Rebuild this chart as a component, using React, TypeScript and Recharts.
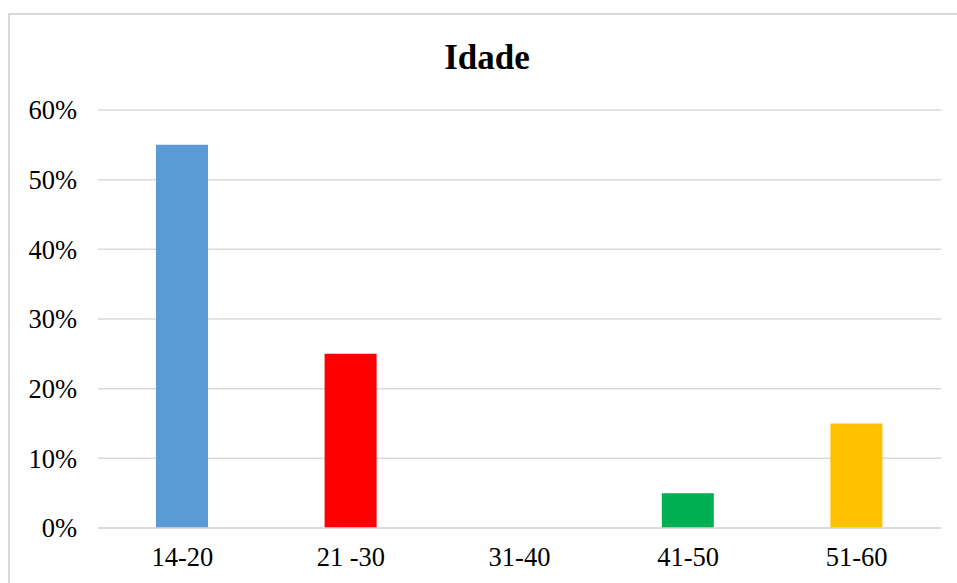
import { Bar, BarChart, CartesianGrid, Cell, XAxis, YAxis } from 'recharts';

const AGE_GROUPS = ['14-20', '21 -30', '31-40', '41-50', '51-60'];
const SHARE = [55, 25, 0, 5, 15];
const BAR_COLORS = ['#5B9BD5', '#FF0000', '#A5A5A5', '#00B050', '#FFC000'];
const Y_TICKS = [0, 10, 20, 30, 40, 50, 60];

const FONT = '"Liberation Serif", "Times New Roman", serif';

const data = AGE_GROUPS.map((name, i) => ({ name, value: SHARE[i] }));

export default function App() {
  return (
    <div
      style={{
        position: 'absolute',
        left: 0,
        top: 0,
        width: 957,
        height: 583,
        overflow: 'hidden',
        background: '#FFFFFF',
        fontFamily: FONT,
      }}
    >
      <div
        style={{
          position: 'absolute',
          left: 8,
          top: 13,
          width: 980,
          height: 620,
          border: '2px solid #D9D9D9',
        }}
      />
      <div
        style={{
          position: 'absolute',
          left: 287,
          top: 40,
          width: 400,
          textAlign: 'center',
          fontSize: 35,
          lineHeight: 1,
          fontWeight: 'bold',
          color: '#000000',
        }}
      >
        Idade
      </div>
      <div style={{ position: 'absolute', left: 0, top: 0 }}>
        <BarChart
          width={957}
          height={583}
          data={data}
          margin={{ top: 110, right: 16, bottom: 25, left: 0 }}
        >
          <CartesianGrid vertical={false} stroke="#D9D9D9" strokeWidth={1.5} />
          <XAxis
            dataKey="name"
            axisLine={{ stroke: '#D9D9D9', strokeWidth: 1.5 }}
            tickLine={false}
            tickSize={0}
            tickMargin={19}
            height={30}
            tick={{ fill: '#000000', fontSize: 26.5, fontFamily: FONT }}
          />
          <YAxis
            width={98}
            domain={[0, 60]}
            ticks={Y_TICKS}
            axisLine={false}
            tickLine={false}
            tickSize={0}
            tickMargin={21}
            tickFormatter={(v: number) => `${v}%`}
            tick={{ fill: '#000000', fontSize: 26.5, fontFamily: FONT }}
          />
          <Bar dataKey="value" barSize={52} isAnimationActive={false}>
            {data.map((_, index) => (
              <Cell key={`cell-${index}`} fill={BAR_COLORS[index]} />
            ))}
          </Bar>
        </BarChart>
      </div>
    </div>
  );
}
